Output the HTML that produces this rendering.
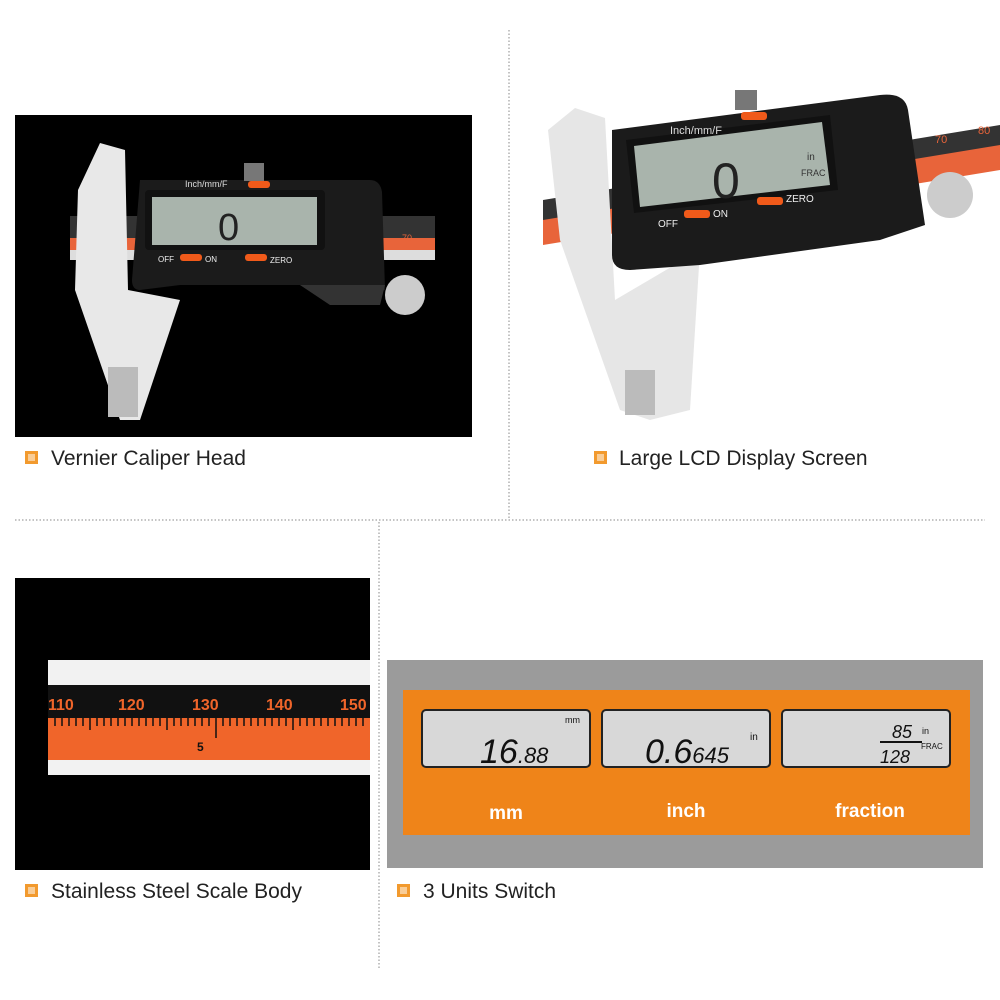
<!DOCTYPE html>
<html><head><meta charset="utf-8"><style>
html,body{margin:0;padding:0;background:#fff;width:1000px;height:1000px;overflow:hidden}
svg{display:block}
text{font-family:"Liberation Sans",sans-serif}
</style></head><body>
<svg width="1000" height="1000" viewBox="0 0 1000 1000" xmlns="http://www.w3.org/2000/svg">
<!-- dividers -->
<line x1="509" y1="30" x2="509" y2="520" stroke="#888" stroke-dasharray="1.5,2"/>
<line x1="15" y1="520" x2="985" y2="520" stroke="#888" stroke-dasharray="1.5,2"/>
<line x1="379" y1="522" x2="379" y2="970" stroke="#888" stroke-dasharray="1.5,2"/>

<!-- TOP LEFT -->
<rect x="15" y="115" width="457" height="322" fill="#000"/>
<rect x="70" y="216" width="365" height="22" fill="#333"/>
<rect x="70" y="238" width="365" height="12" fill="#e8643a"/>
<rect x="70" y="250" width="365" height="10" fill="#ddd"/>
<polygon points="78,190 100,143 125,150 128,290 180,300 140,420 120,420 75,290" fill="#e8e8e8"/>
<rect x="108" y="367" width="30" height="50" fill="#bbb"/>
<path d="M140,180 L370,180 Q380,180 382,192 L385,290 L330,300 L300,285 L180,285 L140,290 Q132,290 132,280 Z" fill="#1b1b1b"/>
<path d="M180,285 L300,285 L330,305 L380,305 L385,285 Z" fill="#333"/>
<rect x="244" y="163" width="20" height="18" fill="#777"/>
<rect x="145" y="190" width="180" height="60" rx="4" fill="#111"/>
<rect x="152" y="197" width="165" height="48" fill="#a9b4ac"/>
<text x="218" y="240" font-size="38" fill="#222" font-family="Liberation Mono">0</text>
<text x="185" y="187" font-size="9" fill="#ddd">Inch/mm/F</text>
<rect x="248" y="181" width="22" height="7" rx="3" fill="#f05a1a"/>
<text x="158" y="262" font-size="8" fill="#eee">OFF</text><rect x="180" y="254" width="22" height="7" rx="3" fill="#f05a1a"/><text x="205" y="262" font-size="8" fill="#eee">ON</text>
<rect x="245" y="254" width="22" height="7" rx="3" fill="#f05a1a"/><text x="270" y="263" font-size="8" fill="#eee">ZERO</text>
<text x="402" y="241" font-size="9" fill="#e8643a">70</text>
<circle cx="405" cy="295" r="20" fill="#ccc"/>

<!-- caption icons -->
<g id="ic"><rect x="25" y="451" width="13" height="13" fill="#f29a2e"/><rect x="28" y="454" width="7" height="7" fill="#fff" opacity=".5"/></g>
<text x="51" y="465" font-size="21" fill="#222">Vernier Caliper Head</text>
<rect x="594" y="451" width="13" height="13" fill="#f29a2e"/><rect x="597" y="454" width="7" height="7" fill="#fff" opacity=".5"/>
<text x="619" y="465" font-size="21" fill="#222">Large LCD Display Screen</text>
<rect x="25" y="884" width="13" height="13" fill="#f29a2e"/><rect x="28" y="887" width="7" height="7" fill="#fff" opacity=".5"/>
<text x="51" y="898" font-size="21" fill="#222">Stainless Steel Scale Body</text>
<rect x="397" y="884" width="13" height="13" fill="#f29a2e"/><rect x="400" y="887" width="7" height="7" fill="#fff" opacity=".5"/>
<text x="423" y="898" font-size="21" fill="#222">3 Units Switch</text>

<!-- TOP RIGHT -->
<polygon points="543,200 1000,125 1000,165 543,240" fill="#333"/>
<polygon points="543,220 1000,145 1000,170 543,245" fill="#e8643a"/>
<polygon points="548,130 575,108 605,118 615,300 700,250 690,410 650,420 620,410 560,240" fill="#e6e6e6"/>
<rect x="625" y="370" width="30" height="45" fill="#bbb"/>
<path d="M612,130 L880,95 Q905,92 908,110 L925,225 L880,240 L700,265 L630,270 Q612,270 612,255 Z" fill="#1b1b1b"/>
<rect x="735" y="90" width="22" height="20" fill="#777"/>
<polygon points="626,140 830,115 838,190 634,213" fill="#111"/>
<polygon points="634,146 822,122 830,185 640,207" fill="#a9b4ac"/>
<text x="712" y="198" font-size="50" fill="#222" font-family="Liberation Mono">0</text>
<text x="807" y="160" font-size="10" fill="#333">in</text>
<text x="801" y="176" font-size="9" fill="#333">FRAC</text>
<text x="670" y="134" font-size="11" fill="#ddd">Inch/mm/F</text>
<rect x="741" y="112" width="26" height="8" rx="3" fill="#f05a1a"/>
<text x="658" y="227" font-size="10" fill="#eee">OFF</text><rect x="684" y="210" width="26" height="8" rx="3" fill="#f05a1a"/><text x="713" y="217" font-size="10" fill="#eee">ON</text>
<rect x="757" y="197" width="26" height="8" rx="3" fill="#f05a1a"/><text x="786" y="202" font-size="10" fill="#eee">ZERO</text>
<text x="935" y="143" font-size="11" fill="#e8643a">70</text><text x="978" y="134" font-size="11" fill="#e8643a">80</text>
<circle cx="950" cy="195" r="23" fill="#ccc"/>

<!-- BOTTOM LEFT -->
<rect x="15" y="578" width="355" height="292" fill="#000"/>
<rect x="48" y="660" width="322" height="115" fill="#f2f2f2"/>
<rect x="48" y="685" width="322" height="33" fill="#111"/>
<rect x="48" y="718" width="322" height="42" fill="#f0652a"/>
<g font-size="16" fill="#f0652a" font-weight="bold"><text x="48" y="710">110</text><text x="118" y="710">120</text><text x="192" y="710">130</text><text x="266" y="710">140</text><text x="340" y="710">150</text></g>
<g stroke="#111" stroke-width="1.5"><path d="M55,718v8M62,718v8M69,718v8M76,718v8M83,718v8M90,718v12M97,718v8M104,718v8M111,718v8M118,718v8M125,718v8M132,718v8M139,718v8M146,718v8M153,718v8M160,718v8M167,718v12M174,718v8M181,718v8M188,718v8M195,718v8M202,718v8M209,718v8M216,718v20M223,718v8M230,718v8M237,718v8M244,718v8M251,718v8M258,718v8M265,718v8M272,718v8M279,718v8M286,718v8M293,718v12M300,718v8M307,718v8M314,718v8M321,718v8M328,718v8M335,718v8M342,718v8M349,718v8M356,718v8M363,718v8"/></g>
<text x="197" y="751" font-size="12" fill="#111" font-weight="bold">5</text>

<!-- BOTTOM RIGHT -->
<rect x="387" y="660" width="596" height="208" fill="#9b9b9b"/>
<rect x="403" y="690" width="567" height="145" fill="#ef8419"/>
<g>
<rect x="422" y="710" width="168" height="57" rx="4" fill="#d8d8d8" stroke="#222" stroke-width="2"/>
<rect x="602" y="710" width="168" height="57" rx="4" fill="#d8d8d8" stroke="#222" stroke-width="2"/>
<rect x="782" y="710" width="168" height="57" rx="4" fill="#d8d8d8" stroke="#222" stroke-width="2"/>
</g>
<text x="480" y="763" font-size="34" fill="#111" font-style="italic" font-family="Liberation Sans Narrow, Liberation Sans">16<tspan font-size="22">.88</tspan></text>
<text x="565" y="723" font-size="9" fill="#111">mm</text>
<text x="645" y="763" font-size="34" fill="#111" font-style="italic">0.6<tspan font-size="22">645</tspan></text>
<text x="750" y="740" font-size="10" fill="#111">in</text>
<text x="892" y="738" font-size="18" fill="#111" font-style="italic">85</text>
<line x1="880" y1="742" x2="922" y2="742" stroke="#111" stroke-width="2"/>
<text x="880" y="763" font-size="18" fill="#111" font-style="italic">128</text>
<text x="922" y="734" font-size="9" fill="#111">in</text><text x="921" y="749" font-size="8" fill="#111">FRAC</text>
<g font-size="19" font-weight="bold" fill="#fff" text-anchor="middle"><text x="506" y="819">mm</text><text x="686" y="817">inch</text><text x="870" y="817">fraction</text></g>
</svg>
</body></html>
